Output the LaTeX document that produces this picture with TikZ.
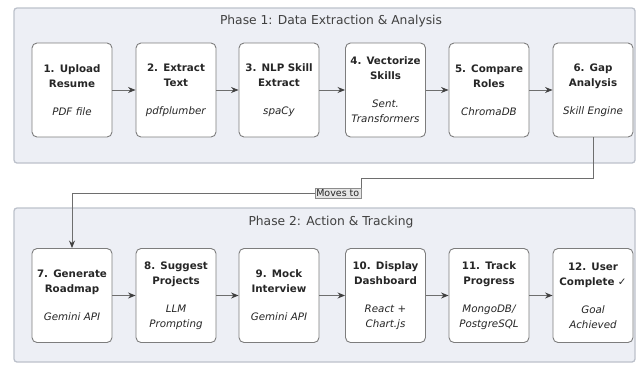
\documentclass[tikz,border=0pt]{standalone}
\usepackage{fontspec}
\setmainfont{DejaVu Sans}
\usetikzlibrary{arrows.meta,positioning}
\definecolor{phasefill}{RGB}{237,239,245}
\definecolor{phasedraw}{RGB}{188,193,203}
\definecolor{boxdraw}{RGB}{125,125,125}
\definecolor{linecol}{RGB}{110,110,110}
\tikzset{
  phasebox/.style={draw=phasedraw, fill=phasefill, line width=1.3pt, rounded corners=3pt},
  phasetitle/.style={font=\fontsize{12.3}{14}\selectfont, text=black!75, inner sep=0pt},
  stepbox/.style={draw=boxdraw, fill=white, line width=0.9pt, rounded corners=5pt,
    minimum width=80pt, minimum height=94pt, inner sep=0pt, text width=80pt, align=center,
    font=\fontsize{10.3}{15}\selectfont, text=black!85},
  flow/.style={draw=linecol, line width=0.9pt, -{Stealth[length=7.5pt,width=6pt,color=black!75]}},
  movelabel/.style={fill=black!10, draw=black!45, line width=0.5pt, inner sep=1.5pt,
    font=\fontsize{9.5}{11}\selectfont, text=black!85}
}
\begin{document}
\begin{tikzpicture}[x=1pt,y=-1pt]
\useasboundingbox (0,0) rectangle (637,365);
% phase boxes
\draw[phasebox] (14,8) rectangle (635,163);
\node[phasetitle] (t1) at (331,21) {Phase 1: Data Extraction \& Analysis};
\draw[phasebox] (14,208) rectangle (635,362);
\node[phasetitle] (t2) at (331,222) {Phase 2: Action \& Tracking};
% row 1
\node[stepbox] (n1) at (72,90)  {\textbf{1. Upload\\Resume}\\[13pt]\textit{PDF file}};
\node[stepbox] (n2) at (176,90) {\textbf{2. Extract\\Text}\\[13pt]\textit{pdfplumber}};
\node[stepbox] (n3) at (279,90) {\textbf{3. NLP Skill\\Extract}\\[13pt]\textit{spaCy}};
\node[stepbox] (n4) at (385.5,90) {\textbf{4. Vectorize\\Skills}\\[13pt]\textit{Sent.\\Transformers}};
\node[stepbox] (n5) at (489,90) {\textbf{5. Compare\\Roles}\\[13pt]\textit{ChromaDB}};
\node[stepbox] (n6) at (593,90) {\textbf{6. Gap\\Analysis}\\[13pt]\textit{Skill Engine}};
% row 2
\node[stepbox] (n7) at (72,295.5)  {\textbf{7. Generate\\Roadmap}\\[13pt]\textit{Gemini API}};
\node[stepbox] (n8) at (176,295.5) {\textbf{8. Suggest\\Projects}\\[13pt]\textit{LLM\\Prompting}};
\node[stepbox] (n9) at (279,295.5) {\textbf{9. Mock\\Interview}\\[13pt]\textit{Gemini API}};
\node[stepbox] (n10) at (385.5,295.5) {\textbf{10. Display\\Dashboard}\\[13pt]\textit{React +\\Chart.js}};
\node[stepbox] (n11) at (489,295.5) {\textbf{11. Track\\Progress}\\[13pt]\textit{MongoDB/\\PostgreSQL}};
\node[stepbox] (n12) at (593,295.5) {\textbf{12. User\\Complete ✓}\\[13pt]\textit{Goal\\Achieved}};
% arrows
\foreach \a/\b in {n1/n2,n2/n3,n3/n4,n4/n5,n5/n6,n7/n8,n8/n9,n9/n10,n10/n11,n11/n12}
  \draw[flow] (\a) -- (\b);
% moves to connector
\coordinate (c1) at (593,178);
\coordinate (c2) at (361,178);
\coordinate (c3) at (361,193);
\coordinate (c4) at (72,193);
\draw[flow] (n6.south) -- (c1) -- (c2) -- (c3) -- (c4) -- (n7.north);
\node[movelabel, anchor=east] (ml) at (c3) {Moves to};
\end{tikzpicture}
\end{document}
